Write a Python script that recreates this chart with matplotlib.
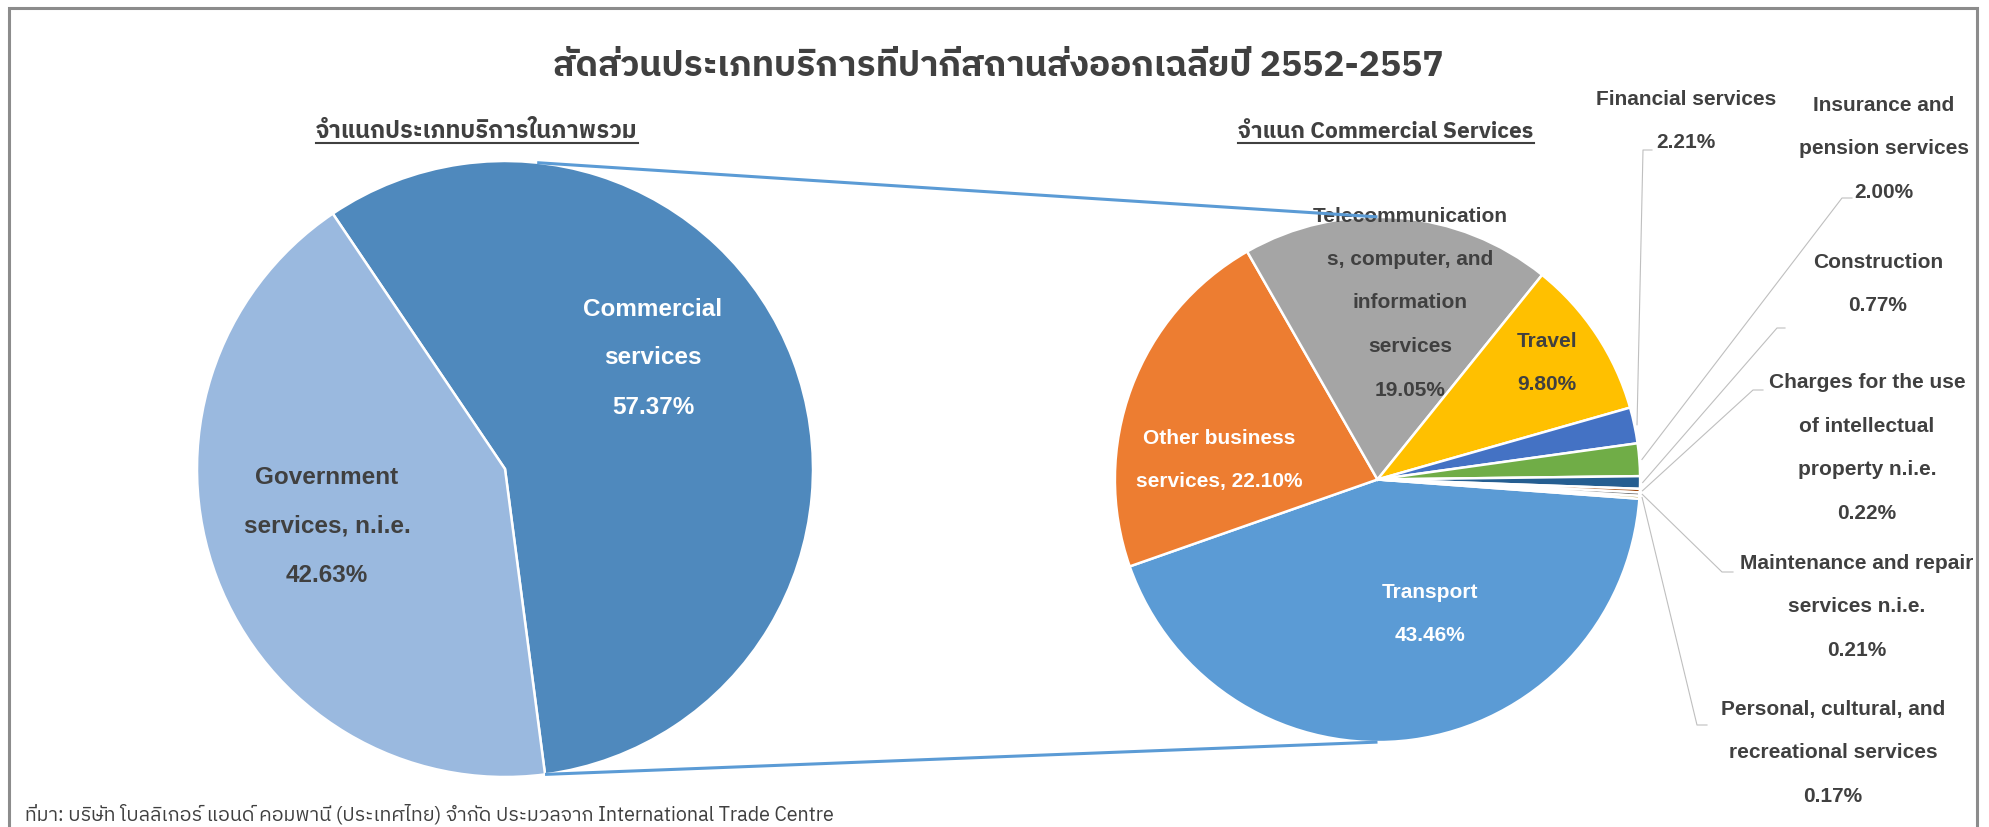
import matplotlib
matplotlib.use("Agg")
import matplotlib.pyplot as plt
from matplotlib import font_manager
from matplotlib.ft2font import FT2Font
from matplotlib.patches import Rectangle
import numpy as np

W, H = 1989, 827

# ---- data ----
title = "สัดส่วนประเภทบริการที่ปากีสถานส่งออกเฉลี่ยปี 2552-2557"
sub_left = "จำแนกประเภทบริการในภาพรวม"
sub_right = "จำแนก Commercial Services"
footer = "ที่มา: บริษัท โบลลิเกอร์ แอนด์ คอมพานี (ประเทศไทย) จำกัด ประมวลจาก International Trade Centre"

overall_labels = ["Commercial\nservices", "Government\nservices, n.i.e."]
overall_share = [57.37, 42.63]
overall_colors = ["#4F89BD", "#9AB9DF"]

comm_labels = ["Transport", "Other business\nservices,", "Telecommunication\ns, computer, and\ninformation\nservices",
               "Travel", "Financial services", "Insurance and\npension services", "Construction",
               "Charges for the use\nof intellectual\nproperty n.i.e.", "Maintenance and repair\nservices n.i.e.",
               "Personal, cultural, and\nrecreational services"]
comm_share = [43.46, 22.10, 19.05, 9.80, 2.21, 2.00, 0.77, 0.22, 0.21, 0.17]
comm_colors = ["#5B9BD5", "#ED7D31", "#A5A5A5", "#FFC000", "#4472C4", "#70AD47",
               "#255E91", "#9E480E", "#636363", "#997300"]


# ---- pick a font that can draw Thai ----
def find_thai():
    names = []
    for f in font_manager.fontManager.ttflist:
        if f.name in names:
            continue
        try:
            if 0x0E2A in FT2Font(f.fname).get_charmap():
                names.append(f.name)
        except Exception:
            pass
    names.sort(key=lambda n: (0 if "Thai" in n else 1, "Looped" in n, n))
    return names

thai = find_thai()
THAI = thai[:1] + ["Liberation Sans", "DejaVu Sans"]
LAT = ["Liberation Sans", "DejaVu Sans"]
DARK = "#404040"

fig = plt.figure(figsize=(W / 100, H / 100), dpi=100)
ax = fig.add_axes([0, 0, 1, 1])
Y = lambda y: H - y   # image rows -> data y


def block(x, y, text, step, **kw):
    lines = text.split("\n")
    y0 = y - step * (len(lines) - 1) / 2
    for i, ln in enumerate(lines):
        ax.text(x, Y(y0 + i * step), ln, ha="center", va="center", **kw)


# ---- left pie ----
lc, lr = (505, Y(469)), 308
lw, _ = ax.pie(overall_share, colors=overall_colors, startangle=124, counterclock=False,
               radius=lr, center=lc, wedgeprops=dict(edgecolor="white", linewidth=1.8))
left_pos = [(653, 358, "white"), (327, 526, DARK)]
for (x, y, c), lab, v in zip(left_pos, overall_labels, overall_share):
    block(x, y, f"{lab}\n{v:.2f}%", 49, color=c, fontsize=17.5, fontweight="bold", family=LAT)

# ---- right pie ----
rc, rr = (1377.5, Y(479.5)), 262.6
rw, _ = ax.pie(comm_share, colors=comm_colors, startangle=-4.2, counterclock=False,
               radius=rr, center=rc, wedgeprops=dict(edgecolor="white", linewidth=1.8))

inside = {0: (1430, 614, "white"), 1: (1219, 460, "white"),
          2: (1410, 303, DARK), 3: (1547, 363, DARK)}
for i, (x, y, c) in inside.items():
    sep = " " if i == 1 else "\n"
    block(x, y, f"{comm_labels[i]}{sep}{comm_share[i]:.2f}%", 43.5, color=c,
          fontsize=15, fontweight="bold", family=LAT)

# outside labels: text centre, elbow, end of leader
outside = {4: (1686, 121, (1643, 150), 1652),
           5: (1884, 149, (1842, 198), 1852),
           6: (1878, 284, (1777, 328), 1785),
           7: (1867, 448, (1753, 390), 1763),
           8: (1857, 607, (1722, 572), 1733),
           9: (1833, 753, (1697, 725), 1707)}
for i, (x, y, (ex, ey), endx) in outside.items():
    block(x, y, f"{comm_labels[i]}\n{comm_share[i]:.2f}%", 43.5, color=DARK,
          fontsize=15, fontweight="bold", family=LAT)
    w = rw[i]
    a = np.deg2rad((w.theta1 + w.theta2) / 2)
    sx, sy = rc[0] + rr * 1.01 * np.cos(a), rc[1] + rr * 1.01 * np.sin(a)
    ax.plot([sx, ex, endx], [sy, Y(ey), Y(ey)], color="#BFBFBF", lw=0.8, zorder=1)

# ---- connector lines between pies ----
ta = np.deg2rad(84)
ax.plot([lc[0] + lr * np.cos(ta), rc[0]], [lc[1] + lr * np.sin(ta), rc[1] + rr],
        color="#5B9BD5", lw=2.2, zorder=6, solid_capstyle="butt")
ba = np.deg2rad(lw[0].theta1)
ax.plot([lc[0] + lr * np.cos(ba), rc[0]], [lc[1] + lr * np.sin(ba), rc[1] - rr],
        color="#5B9BD5", lw=2.2, zorder=6, solid_capstyle="butt")

# ---- titles ----
ax.text(998, Y(66), title, ha="center", va="center", fontsize=25.5, fontweight="bold",
        color=DARK, family=THAI)
subs = [ax.text(477, Y(131), sub_left, ha="center", va="center", fontsize=17,
                fontweight="bold", color=DARK, family=THAI),
        ax.text(1386, Y(131), sub_right, ha="center", va="center", fontsize=16.3,
                fontweight="bold", color=DARK, family=THAI)]
ax.text(25, Y(814), footer, ha="left", va="center", fontsize=14.2, color=DARK, family=THAI)

ax.add_patch(Rectangle((9, -30), 1977 - 9, Y(8) + 30, fill=False, edgecolor="#8C8C8C",
                       lw=2.2, zorder=10))

ax.set_xlim(0, W)
ax.set_ylim(0, H)
ax.set_aspect("auto")
ax.axis("off")

# underline the two sub-headings
fig.canvas.draw()
for t in subs:
    bb = t.get_window_extent()
    ax.plot([bb.x0, bb.x1], [Y(143), Y(143)], color=DARK, lw=1.5)

fig.savefig("out.png", dpi=100)
